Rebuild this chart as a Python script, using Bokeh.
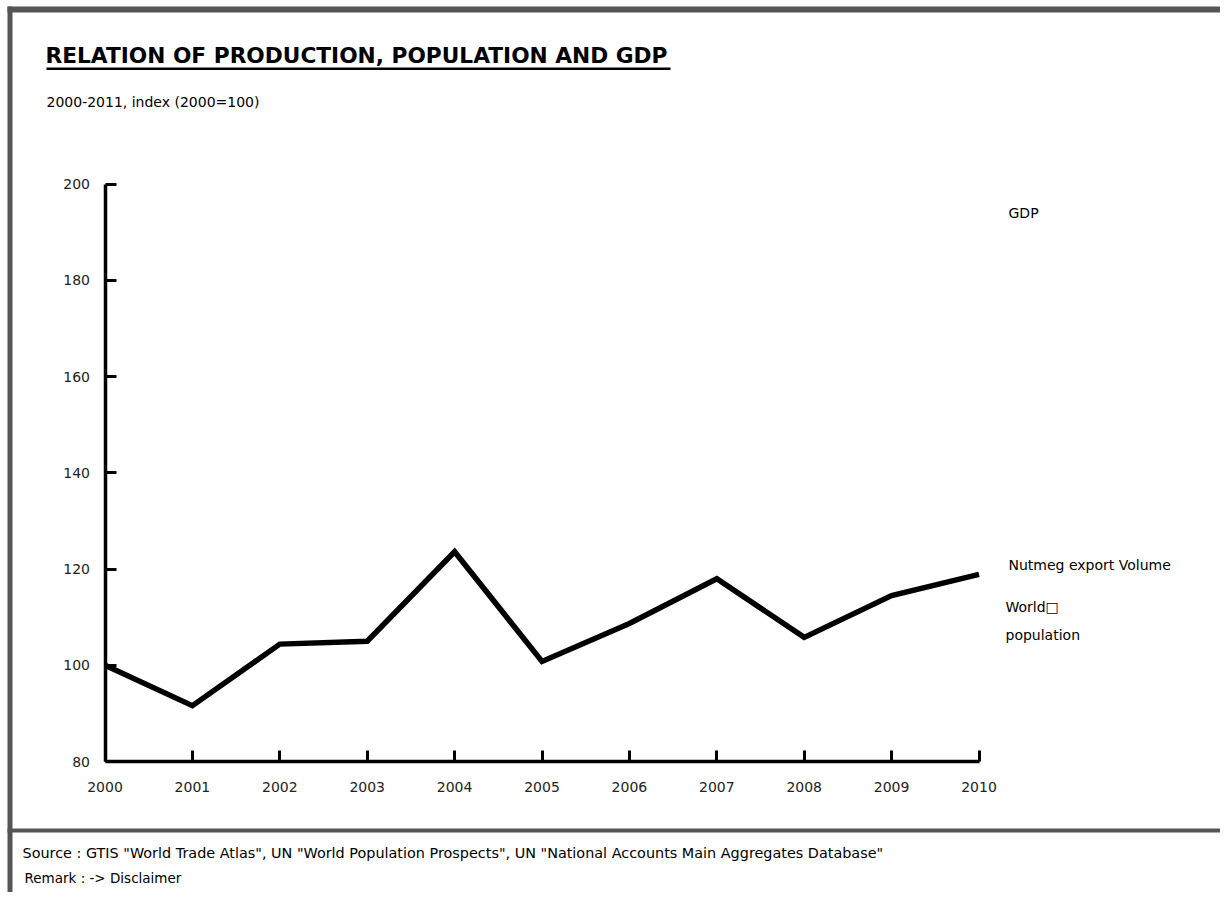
from bokeh.plotting import figure
from bokeh.models import Label, BoxAnnotation, FixedTicker, Range1d
from bokeh.embed import file_html
from bokeh.resources import INLINE

# ---- data ----
years = [2000, 2001, 2002, 2003, 2004, 2005, 2006, 2007, 2008, 2009, 2010]
nutmeg_export_volume = [100.0, 91.6, 104.4, 105.0, 123.6, 100.8, 108.7, 118.0, 105.8, 114.5, 118.9]
y_ticks = [80, 100, 120, 140, 160, 180, 200]

title_text = "RELATION OF PRODUCTION, POPULATION AND GDP"
subtitle_text = "2000-2011, index (2000=100)"
series_labels = ["GDP", "Nutmeg export Volume", "World\u25a1", "population"]
source_text = 'Source : GTIS "World Trade Atlas", UN "World Population Prospects", UN "National Accounts Main Aggregates Database"'
remark_text = "Remark : -> Disclaimer"

FONT = "DejaVu Sans"
W, H = 1220, 892

# pixel placement of the plotting area inside the canvas
X0_PX, X1_PX = 104.5, 978.5      # x of first / last year
Y0_PX, Y1_PX = 761.0, 183.7      # y of lowest / highest y tick
x_lo, x_hi = years[0], years[-1]
y_lo, y_hi = y_ticks[0], y_ticks[-1]
px_per_x = (X1_PX - X0_PX) / (x_hi - x_lo)
px_per_y = (Y0_PX - Y1_PX) / (y_hi - y_lo)

x_range = Range1d(x_lo - X0_PX / px_per_x, x_lo + (W - X0_PX) / px_per_x)
y_range = Range1d(y_lo - (H - Y0_PX) / px_per_y, y_lo + Y0_PX / px_per_y)

p = figure(width=W, height=H, output_backend="svg", toolbar_location=None,
           x_range=x_range, y_range=y_range,
           min_border=0, min_border_left=0, min_border_right=0,
           min_border_top=0, min_border_bottom=0)
p.outline_line_color = None
p.xgrid.visible = False
p.ygrid.visible = False
p.background_fill_color = "white"
p.border_fill_color = "white"

for ax in (p.xaxis[0], p.yaxis[0]):
    ax.axis_line_width = 3.5
    ax.axis_line_color = "black"
    ax.major_tick_line_width = 3
    ax.major_tick_line_color = "black"
    ax.major_tick_in = 11
    ax.major_tick_out = 0
    ax.minor_tick_line_color = None
    ax.major_label_text_font = FONT
    ax.major_label_text_font_size = "14px"
    ax.major_label_text_color = "#222222"

p.xaxis.fixed_location = y_lo
p.yaxis.fixed_location = x_lo
p.xaxis.bounds = (x_lo, x_hi)
p.yaxis.bounds = (y_lo, y_hi)
p.xaxis.ticker = FixedTicker(ticks=years)
p.yaxis.ticker = FixedTicker(ticks=y_ticks)
p.xaxis.major_label_standoff = 20
p.yaxis.major_label_standoff = 15

p.line(years, nutmeg_export_volume, line_width=5.5, line_color="black", line_join="miter")


# helpers: canvas pixel coords -> screen units (frame covers the whole canvas)
def sx(cx):
    return cx


def sy(cy):
    return H - cy


def add_label(text, cx, cy, size, bold=False):
    p.add_layout(Label(x=sx(cx), y=sy(cy), x_units="screen", y_units="screen", text=text,
                       text_font=FONT, text_font_size=size,
                       text_font_style="bold" if bold else "normal",
                       text_color="black", text_baseline="middle", text_align="left"))


def add_box(l, r, t, b, color):
    p.add_layout(BoxAnnotation(left=sx(l), right=sx(r), top=sy(t), bottom=sy(b),
                               left_units="screen", right_units="screen",
                               top_units="screen", bottom_units="screen",
                               fill_color=color, fill_alpha=1.0, line_color=None,
                               line_alpha=0))


# gray frame lines
GRAY = "#555555"
add_box(7, W, 6, 12, GRAY)
add_box(7, 12, 6, H, GRAY)
add_box(7, W, 828, 832, GRAY)

# title, underline, subtitle
add_label(title_text, 45, 55, "21.7px", bold=True)
add_box(46, 670, 67, 69.5, "black")
add_label(subtitle_text, 46, 101.5, "14px")

# series labels at right
add_label(series_labels[0], 1008, 212, "14px")
add_label(series_labels[1], 1008, 564, "14px")
add_label(series_labels[2], 1005, 606, "14px")
add_label(series_labels[3], 1005, 634, "14px")

# footer
add_label(source_text, 22, 852, "14.4px")
add_label(remark_text, 24, 877, "13.5px")

open("out.html", "w").write(file_html(p, INLINE))
